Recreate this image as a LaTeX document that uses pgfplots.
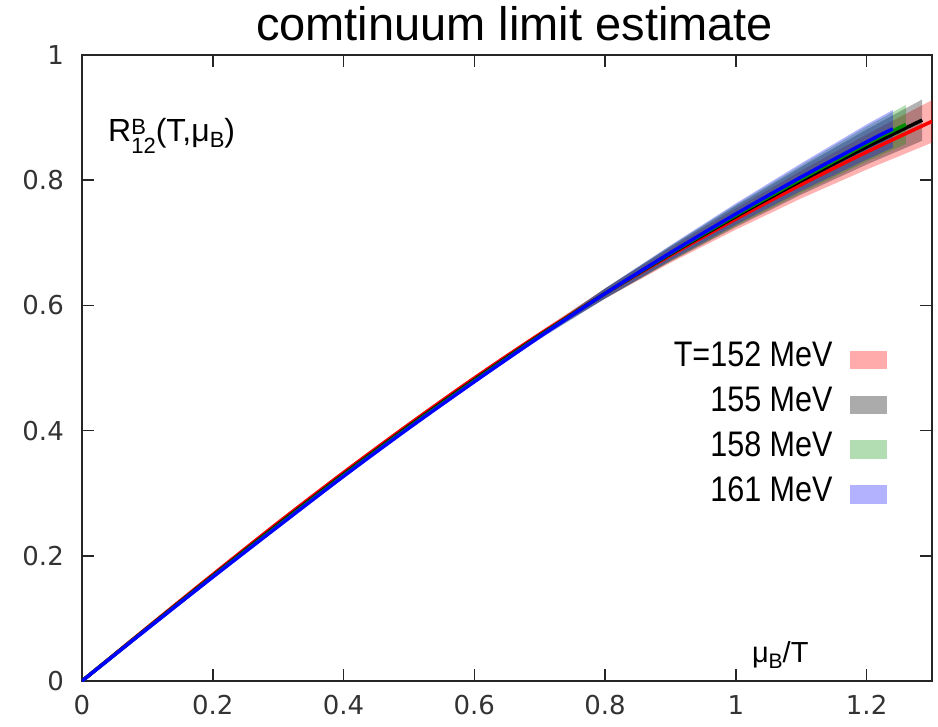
\documentclass[border=0pt]{standalone}
\usepackage{fontspec}
\usepackage{pgfplots}
\usepackage{pgfplotstable}
\pgfplotsset{compat=1.18}
\setmainfont{Liberation Sans}
\newfontfamily\tickfont{DejaVu Sans}
\newfontfamily\legfont[FakeStretch=0.86]{Liberation Sans}

% continuum-extrapolated ratio R12 versus mu_B/T, one table per temperature
\pgfplotstableread{
x     y
0     0
0.1   0.0855
0.2   0.170
0.3   0.253
0.4   0.333
0.5   0.410
0.6   0.484
0.7   0.554
0.8   0.619
0.9   0.680
1.0   0.738
1.1   0.793
1.2   0.845
1.3   0.894
}\seriesA
\pgfplotstableread{
x     y
0     0
0.1   0.0845
0.2   0.168
0.3   0.250
0.4   0.330
0.5   0.407
0.6   0.481
0.7   0.552
0.8   0.619
0.9   0.682
1.0   0.742
1.1   0.799
1.2   0.853
1.285 0.896
}\seriesB
\pgfplotstableread{
x     y
0     0
0.1   0.084
0.2   0.167
0.3   0.2485
0.4   0.3285
0.5   0.4055
0.6   0.4795
0.7   0.551
0.8   0.619
0.9   0.683
1.0   0.744
1.1   0.802
1.2   0.858
1.26  0.889
}\seriesC
\pgfplotstableread{
x     y
0     0
0.1   0.0835
0.2   0.166
0.3   0.247
0.4   0.327
0.5   0.404
0.6   0.478
0.7   0.550
0.8   0.619
0.9   0.684
1.0   0.746
1.1   0.805
1.2   0.861
1.24  0.882
}\seriesD

\definecolor{dgreen}{rgb}{0,0.55,0}

\begin{document}
\begin{tikzpicture}
\useasboundingbox (-82bp,-46bp) rectangle (856bp,681bp);
\begin{axis}[
  at={(0,0)}, anchor=south west,
  scale only axis, width=850bp, height=626bp,
  xmin=0, xmax=1.3, ymin=0, ymax=1,
  xtick={0,0.2,0.4,0.6,0.8,1,1.2},
  ytick={0,0.2,0.4,0.6,0.8,1},
  tick align=inside, major tick length=12bp,
  axis line style={line width=2.5bp, black!85},
  every tick/.style={line width=1.6bp, black!85},
  tick label style={font=\tickfont\fontsize{26bp}{30bp}\selectfont, black!80},
  /pgf/number format/assume math mode=true,
  xticklabel style={inner sep=0pt, yshift=-14bp},
  yticklabel style={inner sep=0pt, xshift=-18bp},
  title={comtinuum limit estimate},
  title style={at={(rel axis cs:0.509,1)}, anchor=base, yshift=9bp,
    inner sep=0pt, font=\fontsize{47bp}{50bp}\selectfont},
  legend plot pos=right, legend cell align=right,
  legend style={draw=none, fill=none, at={(rel axis cs:0.946,0.542)},
    anchor=north east, font=\legfont\fontsize{35.5bp}{38bp}\selectfont,
    row sep=18bp, column sep=17bp, inner sep=0pt,
    nodes={inner sep=0pt}},
]
% error bands: upper edge outwards, lower edge back
\addplot[draw=none, fill=red, fill opacity=0.3, forget plot] coordinates {
  (0,0) (0.1,0.0855) (0.2,0.1705) (0.3,0.254) (0.4,0.334) (0.5,0.4115) (0.6,0.486)
  (0.7,0.558) (0.8,0.627) (0.9,0.692) (1.0,0.755) (1.1,0.815) (1.2,0.873) (1.3,0.928)
  (1.3,0.860) (1.2,0.817) (1.1,0.771) (1.0,0.721) (0.9,0.668) (0.8,0.611) (0.7,0.550)
  (0.6,0.482) (0.5,0.4085) (0.4,0.332) (0.3,0.252) (0.2,0.1695) (0.1,0.0855) (0,0)} -- cycle;
\addplot[draw=none, fill=black, fill opacity=0.3, forget plot] coordinates {
  (0,0) (0.1,0.0845) (0.2,0.1685) (0.3,0.251) (0.4,0.331) (0.5,0.4085) (0.6,0.483)
  (0.7,0.556) (0.8,0.627) (0.9,0.694) (1.0,0.759) (1.1,0.821) (1.2,0.881) (1.285,0.929)
  (1.285,0.863) (1.2,0.825) (1.1,0.777) (1.0,0.725) (0.9,0.670) (0.8,0.611) (0.7,0.548)
  (0.6,0.479) (0.5,0.4055) (0.4,0.329) (0.3,0.249) (0.2,0.1675) (0.1,0.0845) (0,0)} -- cycle;
\addplot[draw=none, fill=dgreen, fill opacity=0.3, forget plot] coordinates {
  (0,0) (0.1,0.084) (0.2,0.1675) (0.3,0.2495) (0.4,0.3295) (0.5,0.407) (0.6,0.4815)
  (0.7,0.555) (0.8,0.627) (0.9,0.695) (1.0,0.761) (1.1,0.824) (1.2,0.886) (1.26,0.920)
  (1.26,0.858) (1.2,0.830) (1.1,0.780) (1.0,0.727) (0.9,0.671) (0.8,0.611) (0.7,0.547)
  (0.6,0.4775) (0.5,0.404) (0.4,0.3275) (0.3,0.2475) (0.2,0.1665) (0.1,0.084) (0,0)} -- cycle;
\addplot[draw=none, fill=blue, fill opacity=0.3, forget plot] coordinates {
  (0,0) (0.1,0.0835) (0.2,0.1665) (0.3,0.248) (0.4,0.328) (0.5,0.4055) (0.6,0.480)
  (0.7,0.554) (0.8,0.627) (0.9,0.696) (1.0,0.763) (1.1,0.827) (1.2,0.889) (1.24,0.912)
  (1.24,0.852) (1.2,0.833) (1.1,0.783) (1.0,0.729) (0.9,0.672) (0.8,0.611) (0.7,0.546)
  (0.6,0.476) (0.5,0.4025) (0.4,0.326) (0.3,0.246) (0.2,0.1655) (0.1,0.0835) (0,0)} -- cycle;
% central values
\addplot[red, line width=3.5bp, smooth, forget plot] table[x=x, y=y] {\seriesA};
\addplot[black, line width=3.5bp, smooth, forget plot] table[x=x, y=y] {\seriesB};
\addplot[dgreen, line width=3.5bp, smooth, forget plot] table[x=x, y=y] {\seriesC};
\addplot[blue, line width=3.5bp, smooth, forget plot] table[x=x, y=y] {\seriesD};

\addlegendimage{legend image code/.code={\fill[red!33] (0bp,-13.5bp) rectangle (36bp,4bp);}}
\addlegendentry{T=152 MeV}
\addlegendimage{legend image code/.code={\fill[black!33] (0bp,-13.5bp) rectangle (36bp,4bp);}}
\addlegendentry{155 MeV}
\addlegendimage{legend image code/.code={\fill[dgreen!30] (0bp,-13.5bp) rectangle (36bp,4bp);}}
\addlegendentry{158 MeV}
\addlegendimage{legend image code/.code={\fill[blue!30] (0bp,-13.5bp) rectangle (36bp,4bp);}}
\addlegendentry{161 MeV}

\node[anchor=base west, inner sep=0pt, font=\fontsize{32bp}{36bp}\selectfont] at (rel axis cs:0.0306,0.8626)
  {R\raisebox{-12bp}{\fontsize{22bp}{27bp}\selectfont\shortstack[l]{B\\12}}(T,μ\raisebox{-6bp}{\fontsize{22bp}{22bp}\selectfont B})};
\node[anchor=base west, inner sep=0pt, font=\fontsize{29bp}{32bp}\selectfont] at (rel axis cs:0.788,0.030)
  {μ\raisebox{-6bp}{\fontsize{21bp}{21bp}\selectfont B}/T};
\end{axis}
\end{tikzpicture}
\end{document}
